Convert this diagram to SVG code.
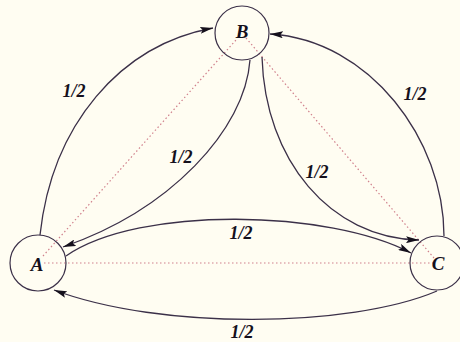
<svg xmlns="http://www.w3.org/2000/svg" width="460" height="342" viewBox="0 0 460 342">
<defs>
<style>
.node{fill:none;stroke:#3b3048;stroke-width:1.2}
.edge{fill:none;stroke:#3b3048;stroke-width:1.3}
.dot{fill:none;stroke:#d0808c;stroke-width:1.2;stroke-dasharray:1.5 2.5}
.nl{font-family:"Liberation Serif",serif;font-style:italic;font-weight:bold;font-size:19px;fill:#15101c;text-anchor:middle}
.el{font-family:"Liberation Serif",serif;font-style:italic;font-weight:bold;font-size:18px;fill:#15101c;text-anchor:middle}
</style>
<marker id="ah" viewBox="0 0 13 7" refX="13" refY="3.5" markerWidth="13" markerHeight="7" markerUnits="userSpaceOnUse" orient="auto">
<path d="M0,0 L13,3.5 L0,7 L2.5,3.5 Z" fill="#15101c"/>
</marker>
</defs>
<rect width="460" height="342" fill="#fffdf2"/>
<g id="dotted">
<line class="dot" x1="43" y1="256" x2="236" y2="40"/>
<line class="dot" x1="246" y1="38" x2="434" y2="258"/>
<line class="dot" x1="44" y1="263" x2="436" y2="263"/>
</g>
<g id="connectors">
<path id="e-AB" class="edge" d="M40,235 C52,125 120,45 213,28" marker-end="url(#ah)"/>
<path id="e-BA" class="edge" d="M250,60 C245,130 170,210 63,247" marker-end="url(#ah)"/>
<path id="e-BC" class="edge" d="M262,57 C265,160 330,238 419,240" marker-end="url(#ah)"/>
<path id="e-CB" class="edge" d="M444,236 C444,140 370,40 270,34" marker-end="url(#ah)"/>
<path id="e-AC" class="edge" d="M66,256 C140,205 330,210 411,253" marker-end="url(#ah)"/>
<path id="e-CA" class="edge" d="M437,291 C350,328 160,330 54,290" marker-end="url(#ah)"/>
<text class="el" x="74" y="97">1/2</text>
<text class="el" x="181" y="163">1/2</text>
<text class="el" x="317" y="178">1/2</text>
<text class="el" x="415" y="100">1/2</text>
<text class="el" x="241" y="239">1/2</text>
<text class="el" x="242" y="338">1/2</text>
</g>
<g id="node-A">
<circle class="node" cx="38" cy="263" r="28"/>
<text class="nl" x="37" y="271">A</text>
</g>
<g id="node-B">
<circle class="node" cx="242" cy="33" r="27"/>
<text class="nl" x="242" y="38">B</text>
</g>
<g id="node-C">
<circle class="node" cx="437" cy="263" r="27"/>
<text class="nl" x="438" y="270">C</text>
</g>
</svg>
